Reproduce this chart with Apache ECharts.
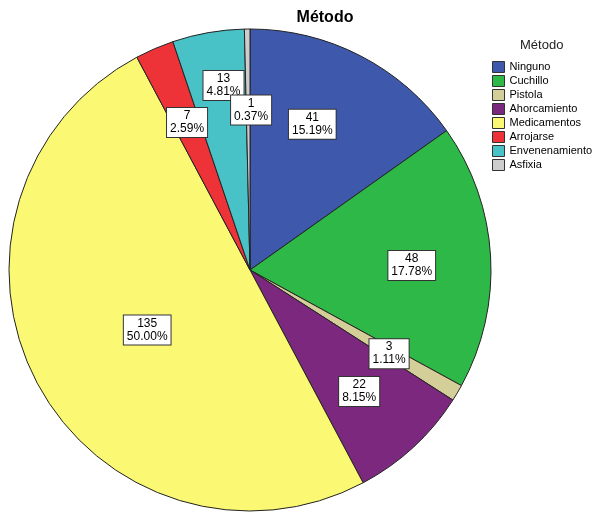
<!DOCTYPE html>
<html lang="es">
<head>
  <meta charset="utf-8">
  <title>Método</title>
  <style>
    * { margin: 0; padding: 0; }
    #chart-container { width: 593px; height: 512px; background: #fff; }
  </style>
</head>
<body>
  <div id="chart-container"></div>
  <script src="https://cdn.jsdelivr.net/npm/echarts@6/dist/echarts.min.js"></script>
  <script>
    var dom = document.getElementById('chart-container');
    var myChart = echarts.init(dom, null, { renderer: 'canvas' });

    // datos
    const categories = ['Ninguno', 'Cuchillo', 'Pistola', 'Ahorcamiento', 'Medicamentos', 'Arrojarse', 'Envenenamiento', 'Asfixia'];
    const counts = [41, 48, 3, 22, 135, 7, 13, 1];
    const percentLabels = ['15.19%', '17.78%', '1.11%', '8.15%', '50.00%', '2.59%', '4.81%', '0.37%'];

    const colors = ['#3E58AC', '#2EB848', '#D4CE98', '#7B287E', '#FBF874', '#EE3338', '#48C2C6', '#CDCDCD'];

    // ajustes de posición de las etiquetas (px)
    const labelOffsets = {
      'Ninguno': [-13, 0],
      'Cuchillo': [-2, 5],
      'Pistola': [-2, 0],
      'Ahorcamiento': [-2, 1],
      'Medicamentos': [42, -17],
      'Arrojarse': [2, 3],
      'Envenenamiento': [2, -23],
      'Asfixia': [3, 4]
    };

    var option = {
      animation: false,
      title: {
        text: 'Método',
        left: 320,
        top: 5,
        textAlign: 'center',
        textStyle: { fontFamily: 'Liberation Sans', fontSize: 16, fontWeight: 'bold', color: '#000' }
      },
      legend: {
        orient: 'vertical',
        left: 492,
        top: 61,
        padding: 0,
        itemWidth: 12,
        itemHeight: 11,
        itemGap: 2,
        icon: 'rect',
        selectedMode: false,
        itemStyle: { borderColor: '#333', borderWidth: 1 },
        textStyle: { fontFamily: 'Liberation Sans', fontSize: 11, color: '#000' },
        data: categories
      },
      graphic: [{
        type: 'text',
        left: 520,
        top: 39,
        style: { text: 'Método', fontFamily: 'Liberation Sans', fontSize: 13, fill: '#222' }
      }],
      series: [{
        type: 'pie',
        center: [250, 270],
        radius: [0, 241],
        startAngle: 90,
        clockwise: true,
        avoidLabelOverlap: false,
        itemStyle: { borderColor: '#222', borderWidth: 1 },
        emphasis: { disabled: true },
        labelLine: { show: false },
        label: { show: false },
        data: categories.map(function (name, i) {
          return { name: name, value: counts[i], itemStyle: { color: colors[i] } };
        })
      }, {
        // capa transparente solo para etiquetas (radio medio ~161px)
        type: 'pie',
        center: [250, 270],
        radius: [81, 241],
        startAngle: 90,
        clockwise: true,
        avoidLabelOverlap: false,
        minShowLabelAngle: 0,
        labelLayout: { hideOverlap: false },
        silent: true,
        itemStyle: { color: 'rgba(0,0,0,0)', borderWidth: 0 },
        labelLine: { show: false },
        label: {
          show: true,
          position: 'inside',
          formatter: function (p) {
            return counts[p.dataIndex] + '\n' + percentLabels[p.dataIndex];
          },
          fontFamily: 'Liberation Sans',
          fontSize: 12,
          lineHeight: 13,
          color: '#000',
          backgroundColor: '#fff',
          borderColor: '#333',
          borderWidth: 1,
          padding: [2, 3, 1, 3],
          align: 'center'
        },
        data: categories.map(function (name, i) {
          return { name: name, value: counts[i], label: { offset: labelOffsets[name] } };
        })
      }]
    };

    myChart.setOption(option);
    window.addEventListener('resize', myChart.resize);
  </script>
</body>
</html>
